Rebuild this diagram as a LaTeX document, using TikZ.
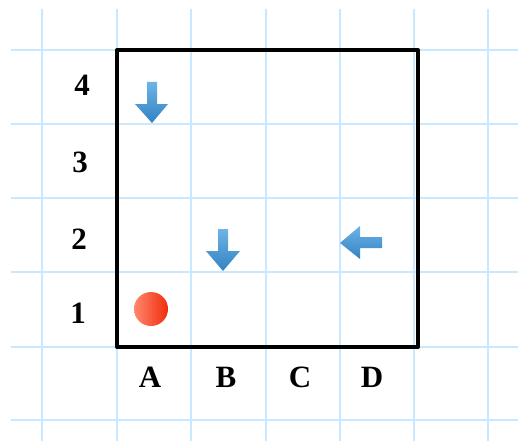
\documentclass[tikz,border=0pt]{standalone}
\usepackage{fontspec}
\setmainfont{Liberation Serif}
\begin{document}
\begin{tikzpicture}[x=1pt,y=-1pt,
  gridline/.style={draw=gridblue,line width=1.2pt},
  board/.style={draw=black,line width=4pt,line join=round},
  lab/.style={font=\fontsize{31}{32}\selectfont\bfseries,inner sep=0pt,anchor=center},
  arr/.style={top color=arrowlight,bottom color=arrowdark,draw=none}]
\definecolor{gridblue}{RGB}{200,232,255}
\definecolor{arrowlight}{RGB}{110,180,230}
\definecolor{arrowdark}{RGB}{50,130,195}
\definecolor{dotlight}{RGB}{255,135,110}
\definecolor{dotdark}{RGB}{240,45,10}
\useasboundingbox (0,0) rectangle (518,441);
\fill[white] (0,0) rectangle (518,441);
% grid
\foreach \x in {42,117,191,266,340,414,488} \draw[gridline] (\x,9) -- (\x,441);
\foreach \y in {50,124,198,272,347,420} \draw[gridline] (11,\y) -- (518,\y);
% board
\draw[board] (117,50) -- (418,50) -- (418,347) -- (117,347) -- cycle;
% row labels
\node[lab] (r4) at (82,85) {4};
\node[lab] (r3) at (80,162) {3};
\node[lab] (r2) at (79,239) {2};
\node[lab] (r1) at (78,313) {1};
% column labels
\node[lab] (cA) at (150,377) {A};
\node[lab] (cB) at (226,377) {B};
\node[lab] (cC) at (300,377) {C};
\node[lab] (cD) at (372,377) {D};
% arrows
\shade[arr] (147,82) -- (157,82) -- (157,104) -- (168,104) -- (152,123) -- (135,104) -- (147,104) -- cycle;
\shade[arr] (218,229) -- (228,229) -- (228,251) -- (240,251) -- (223,271) -- (206,251) -- (218,251) -- cycle;
\shade[arr] (382,237) -- (382,248) -- (360,248) -- (360,259) -- (340,243) -- (360,226) -- (360,237) -- cycle;
% dot
\shade[left color=dotlight,right color=dotdark] (151,309) circle (17);
\end{tikzpicture}
\end{document}
